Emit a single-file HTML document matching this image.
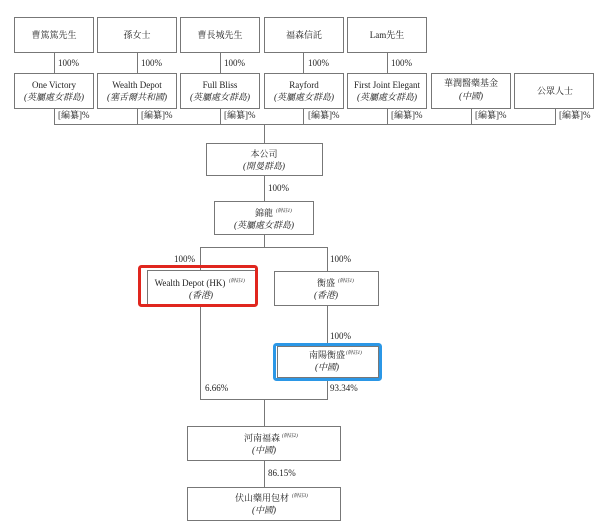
<!DOCTYPE html>
<html><head><meta charset="utf-8"><style>
body{margin:0;background:#fff}
svg{display:block}
text{font-family:"Liberation Serif","Noto Serif CJK SC",serif;font-size:9px;fill:#222}
.i{font-style:italic}
.s{font-size:5px;font-style:italic}
</style></head><body>
<svg width="602" height="525" xmlns="http://www.w3.org/2000/svg">
<g fill="none" stroke="#777" stroke-width="1">
<rect x="14.5" y="17.5" width="79" height="35"/><rect x="97.5" y="17.5" width="79" height="35"/><rect x="180.5" y="17.5" width="79" height="35"/><rect x="264.5" y="17.5" width="79" height="35"/><rect x="347.5" y="17.5" width="79" height="35"/>
<rect x="14.5" y="73.5" width="79" height="35"/><rect x="97.5" y="73.5" width="79" height="35"/><rect x="180.5" y="73.5" width="79" height="35"/><rect x="264.5" y="73.5" width="79" height="35"/><rect x="347.5" y="73.5" width="79" height="35"/><rect x="431.5" y="73.5" width="79" height="35"/><rect x="514.5" y="73.5" width="79" height="35"/>
<path d="M54.5 52V73M137.5 52V73M220.5 52V73M303.5 52V73M387.5 52V73"/>
<path d="M54.5 108V124.5M137.5 108V124.5M220.5 108V124.5M303.5 108V124.5M387.5 108V124.5M471.5 108V124.5M555.5 108V124.5M54 124.5H556M264.5 124V143"/>
<rect x="206.5" y="143.5" width="116" height="32"/>
<path d="M264.5 175V201"/>
<rect x="214.5" y="201.5" width="99" height="33"/>
<path d="M264.5 234V247.5M200 247.5H328M200.5 247V270M327.5 247V271"/>
<rect x="147.5" y="270.5" width="109" height="34"/>
<rect x="274.5" y="271.5" width="104" height="34"/>
<path d="M327.5 305V343M200.5 304V399.5M327.5 380V399.5M200 399.5H328M264.5 399V426"/>
<rect x="277.5" y="346.5" width="101" height="31"/>
<rect x="187.5" y="426.5" width="153" height="34"/>
<path d="M264.5 460V487"/>
<rect x="187.5" y="487.5" width="153" height="33"/>
</g>
<rect x="139.5" y="266.5" width="117" height="39" rx="2" fill="none" stroke="#e0261e" stroke-width="3"/>
<rect x="274.5" y="344.5" width="106" height="35" rx="2" fill="none" stroke="#2b97e6" stroke-width="3"/>
<g text-anchor="middle">
<text x="54" y="38">曹篤篤先生</text><text x="137" y="38">孫女士</text><text x="220" y="38">曹長城先生</text><text x="304" y="38">福森信託</text><text x="387" y="38">Lam先生</text>
<text x="54" y="88">One Victory</text><text class="i" x="54" y="100">(英屬處女群島)</text>
<text x="137" y="88">Wealth Depot</text><text class="i" x="137" y="100">(塞舌爾共和國)</text>
<text x="220" y="88">Full Bliss</text><text class="i" x="220" y="100">(英屬處女群島)</text>
<text x="304" y="88">Rayford</text><text class="i" x="304" y="100">(英屬處女群島)</text>
<text x="387" y="88">First Joint Elegant</text><text class="i" x="387" y="100">(英屬處女群島)</text>
<text x="471" y="86">華潤醫藥基金</text><text class="i" x="471" y="99">(中國)</text>
<text x="555" y="94">公眾人士</text>
<text x="264" y="157">本公司</text><text class="i" x="264" y="169">(開曼群島)</text>
<text x="264" y="216">錦龍</text><text class="i" x="264" y="228">(英屬處女群島)</text>
<text x="190" y="286">Wealth Depot (HK)</text><text class="i" x="201" y="298">(香港)</text>
<text x="326" y="286">衡盛</text><text class="i" x="326" y="298">(香港)</text>
<text x="327" y="358">南陽衡盛</text><text class="i" x="327" y="370">(中國)</text>
<text x="262" y="441">河南福森</text><text class="i" x="264" y="453">(中國)</text>
<text x="262" y="501">伏山藥用包材</text><text class="i" x="264" y="513">(中國)</text>
</g>
<text class="s" x="276" y="212">(附註1)</text>
<text class="s" x="229" y="282">(附註1)</text>
<text class="s" x="338" y="282">(附註1)</text>
<text class="s" x="346" y="354">(附註1)</text>
<text class="s" x="282" y="437">(附註2)</text>
<text class="s" x="292" y="497">(附註3)</text>
<g>
<text x="58" y="66">100%</text><text x="141" y="66">100%</text><text x="224" y="66">100%</text><text x="308" y="66">100%</text><text x="391" y="66">100%</text>
<text x="58" y="118">[編纂]%</text><text x="141" y="118">[編纂]%</text><text x="224" y="118">[編纂]%</text><text x="308" y="118">[編纂]%</text><text x="391" y="118">[編纂]%</text><text x="475" y="118">[編纂]%</text><text x="559" y="118">[編纂]%</text>
<text x="268" y="191">100%</text>
<text x="174" y="262">100%</text><text x="330" y="262">100%</text>
<text x="330" y="339">100%</text>
<text x="205" y="391">6.66%</text><text x="330" y="391">93.34%</text>
<text x="268" y="476">86.15%</text>
</g>
</svg>
</body></html>
